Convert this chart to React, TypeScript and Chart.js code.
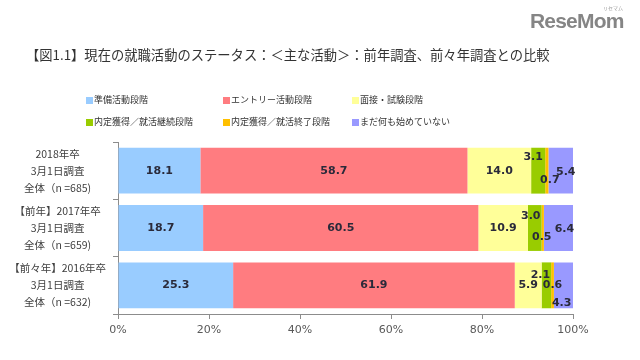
import React, { useEffect, useRef } from "react";
import { Chart, registerables } from "chart.js";

Chart.register(...registerables);

const categories: string[][] = [
  ["2018年卒", "3月1日調査", "全体（n =685)"],
  ["【前年】2017年卒", "3月1日調査", "全体（n =659)"],
  ["【前々年】2016年卒", "3月1日調査", "全体（n =632)"],
];
const seriesNames = [
  "準備活動段階",
  "エントリー活動段階",
  "面接・試験段階",
  "内定獲得／就活継続段階",
  "内定獲得／就活終了段階",
  "まだ何も始めていない",
];
const prepStage = [18.1, 18.7, 25.3];
const entryStage = [58.7, 60.5, 61.9];
const interviewStage = [14.0, 10.9, 5.9];
const offerContinue = [3.1, 3.0, 2.1];
const offerFinished = [0.7, 0.5, 0.6];
const notStarted = [5.4, 6.4, 4.3];
const seriesColors = ["#99CCFF", "#FF7C80", "#FFFF99", "#99CC00", "#FFC000", "#9999FF"];
const xTicks = [0, 20, 40, 60, 80, 100];

const TITLE = "【図1.1】現在の就職活動のステータス：＜主な活動＞：前年調査、前々年調査との比較";

// label nudges (style only) per dataset/row: [dx, dy]
const labelNudge: Record<string, [number, number]> = {
  "3-0": [-5, -14],
  "4-0": [3, 9],
  "5-0": [5, 1],
  "3-1": [-4, -12],
  "4-1": [-1, 9],
  "5-1": [6, 1],
  "3-2": [-6, -10],
  "4-2": [0, 0],
  "5-2": [-2, 18],
};

const labelPlugin = {
  id: "segLabels",
  afterDatasetsDraw(chart: any) {
    const ctx = chart.ctx;
    ctx.save();
    ctx.font = "bold 11px 'DejaVu Sans', Verdana, sans-serif";
    ctx.fillStyle = "#2a2a3a";
    ctx.textAlign = "center";
    ctx.textBaseline = "middle";
    chart.data.datasets.forEach((ds: any, di: number) => {
      const meta = chart.getDatasetMeta(di);
      meta.data.forEach((el: any, i: number) => {
        const v = ds.data[i];
        const cx = (el.x + el.base) / 2;
        const n = labelNudge[`${di}-${i}`] || [0, 0];
        ctx.fillText(v.toFixed(1), cx + n[0], el.y + n[1]);
      });
    });
    ctx.restore();
  },
};

export default function App() {
  const ref = useRef<HTMLCanvasElement>(null);
  useEffect(() => {
    const values = [prepStage, entryStage, interviewStage, offerContinue, offerFinished, notStarted];
    const chart = new Chart(ref.current!, {
      type: "bar",
      data: {
        labels: categories,
        datasets: values.map((d, i) => ({
          label: seriesNames[i],
          data: d,
          backgroundColor: seriesColors[i],
          borderWidth: 0,
          barPercentage: 0.8,
          categoryPercentage: 1,
        })),
      },
      options: {
        indexAxis: "y",
        animation: false,
        responsive: false,
        devicePixelRatio: 1,
        layout: { padding: { top: 142, right: 67, left: 0, bottom: 0 } },
        plugins: { legend: { display: false }, tooltip: { enabled: false }, title: { display: false } },
        scales: {
          x: {
            stacked: true,
            min: 0,
            max: 100,
            afterFit: (s: any) => { s.height = 46; },
            afterBuildTicks: (s: any) => { s.ticks = xTicks.map((v) => ({ value: v })); },
            ticks: {
              callback: (v: any) => v + "%",
              color: "#595959",
              font: { family: "'DejaVu Sans', Verdana, sans-serif", size: 11 },
              padding: 5,
              maxRotation: 0,
            },
            grid: { drawOnChartArea: false, tickLength: 5, color: "#8c8c8c" },
            border: { color: "#8c8c8c", width: 1 },
          },
          y: {
            stacked: true,
            afterFit: (s: any) => { s.width = 118; },
            ticks: {
              color: "#404040",
              crossAlign: "center",
              padding: 7,
              font: { family: "'Noto Sans CJK JP', sans-serif", size: 10.5, lineHeight: 1.62 },
            },
            grid: { drawOnChartArea: false, offset: true, tickLength: 5, color: "#8c8c8c" },
            border: { color: "#8c8c8c", width: 1 },
          },
        },
      },
      plugins: [labelPlugin],
    } as any);
    return () => chart.destroy();
  }, []);

  const legendCols = [86, 223, 352];
  return (
    <div style={{ position: "absolute", left: 0, top: 0, width: 640, height: 360, background: "#fff", overflow: "hidden" }}>
      <canvas ref={ref} width={640} height={360} style={{ position: "absolute", left: 0, top: 0 }} />
      <div style={{ position: "absolute", left: 530, top: 9, fontFamily: "'Liberation Sans', Arial, sans-serif", fontWeight: "bold", fontSize: 21, color: "#858585", letterSpacing: -0.8 }}>
        ReseMom
      </div>
      <div style={{ position: "absolute", left: 603, top: 4, fontFamily: "'Noto Sans CJK JP', sans-serif", fontSize: 5, color: "#999" }}>リセマム</div>
      <div style={{ position: "absolute", left: 26, top: 46, fontFamily: "'Noto Sans CJK JP', sans-serif", fontSize: 13.3, color: "#333", whiteSpace: "nowrap", lineHeight: "18px" }}>
        {TITLE}
      </div>
      {seriesNames.map((name, i) => (
        <div key={name} style={{ position: "absolute", left: legendCols[i % 3], top: i < 3 ? 94 : 116, display: "flex", alignItems: "center", fontFamily: "'Noto Sans CJK JP', sans-serif", fontSize: 9, color: "#333", whiteSpace: "nowrap", lineHeight: "12px" }}>
          <span style={{ display: "inline-block", width: 7, height: 7, background: seriesColors[i], marginRight: 1 }} />
          {name}
        </div>
      ))}
    </div>
  );
}
